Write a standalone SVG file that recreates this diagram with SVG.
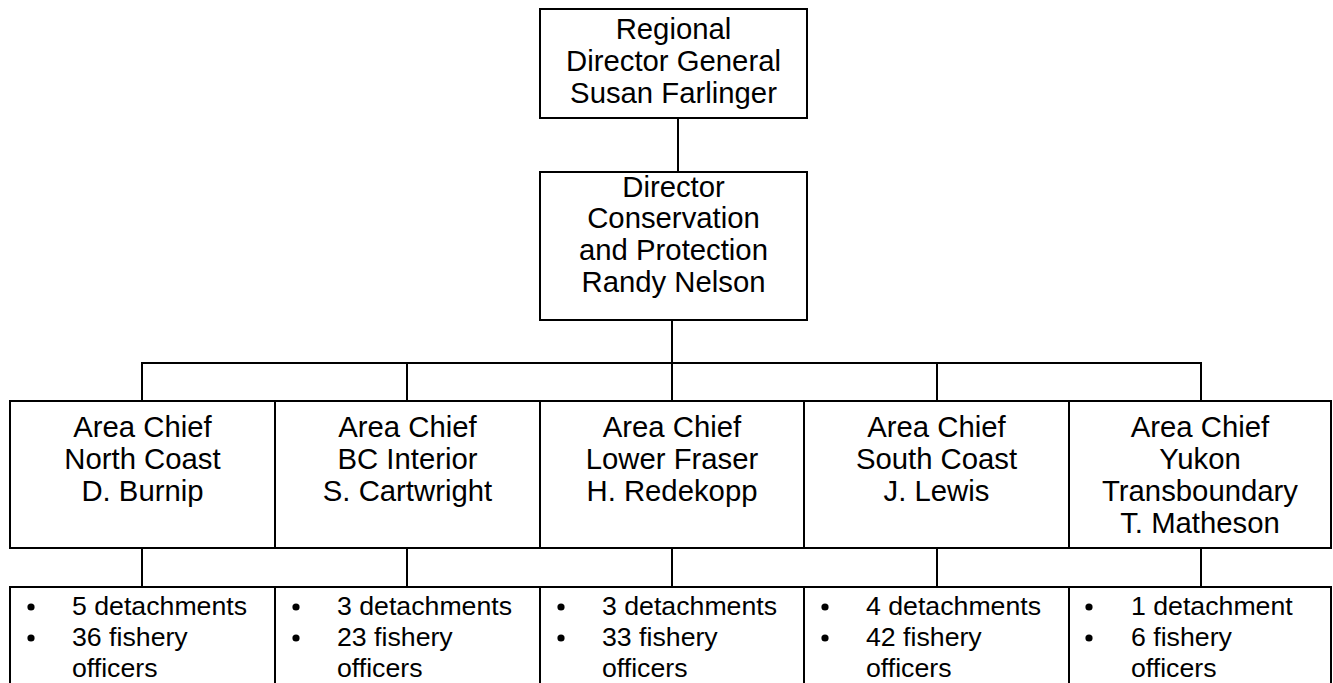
<svg xmlns="http://www.w3.org/2000/svg" width="1333" height="683" viewBox="0 0 1333 683">
<style>
  .box { fill: #ffffff; stroke: #000000; stroke-width: 2; }
  .conn { stroke: #000000; stroke-width: 2; fill: none; }
  .t { font-family: "Liberation Sans", Arial, sans-serif; font-size: 29.3px; fill: #000000; text-anchor: middle; }
  .b { font-family: "Liberation Sans", Arial, sans-serif; font-size: 26.7px; fill: #000000; }
  .dot { fill: #000000; }
</style>
<rect width="1333" height="683" fill="#ffffff"/>
<g id="connectors">
  <line class="conn" x1="678" y1="118" x2="678" y2="172"/>
  <line class="conn" x1="672" y1="320" x2="672" y2="363"/>
  <line class="conn" x1="141" y1="363" x2="1202" y2="363"/>
  <line class="conn" x1="142" y1="363" x2="142" y2="401"/>
  <line class="conn" x1="407" y1="363" x2="407" y2="401"/>
  <line class="conn" x1="672" y1="363" x2="672" y2="401"/>
  <line class="conn" x1="937" y1="363" x2="937" y2="401"/>
  <line class="conn" x1="1201" y1="363" x2="1201" y2="401"/>
  <line class="conn" x1="142" y1="548" x2="142" y2="587"/>
  <line class="conn" x1="407" y1="548" x2="407" y2="587"/>
  <line class="conn" x1="672" y1="548" x2="672" y2="587"/>
  <line class="conn" x1="937" y1="548" x2="937" y2="587"/>
  <line class="conn" x1="1201" y1="548" x2="1201" y2="587"/>
</g>
<g id="rdg">
  <rect class="box" x="540" y="9" width="267" height="109"/>
  <text class="t" x="673.5" y="39">Regional</text>
  <text class="t" x="673.5" y="71">Director General</text>
  <text class="t" x="673.5" y="103">Susan Farlinger</text>
</g>
<g id="director">
  <rect class="box" x="540" y="172" width="267" height="148"/>
  <text class="t" x="673.5" y="197">Director</text>
  <text class="t" x="673.5" y="228">Conservation</text>
  <text class="t" x="673.5" y="260">and Protection</text>
  <text class="t" x="673.5" y="292">Randy Nelson</text>
</g>
<g id="north-coast">
  <rect class="box" x="10" y="401" width="265" height="147"/>
  <text class="t" x="142.5" y="437">Area Chief</text>
  <text class="t" x="142.5" y="469">North Coast</text>
  <text class="t" x="142.5" y="501">D. Burnip</text>
</g>
<g id="bc-interior">
  <rect class="box" x="275" y="401" width="265" height="147"/>
  <text class="t" x="407.5" y="437">Area Chief</text>
  <text class="t" x="407.5" y="469">BC Interior</text>
  <text class="t" x="407.5" y="501">S. Cartwright</text>
</g>
<g id="lower-fraser">
  <rect class="box" x="540" y="401" width="264" height="147"/>
  <text class="t" x="672" y="437">Area Chief</text>
  <text class="t" x="672" y="469">Lower Fraser</text>
  <text class="t" x="672" y="501">H. Redekopp</text>
</g>
<g id="south-coast">
  <rect class="box" x="804" y="401" width="265" height="147"/>
  <text class="t" x="936.5" y="437">Area Chief</text>
  <text class="t" x="936.5" y="469">South Coast</text>
  <text class="t" x="936.5" y="501">J. Lewis</text>
</g>
<g id="yukon">
  <rect class="box" x="1069" y="401" width="262" height="147"/>
  <text class="t" x="1200" y="437">Area Chief</text>
  <text class="t" x="1200" y="469">Yukon</text>
  <text class="t" x="1200" y="501">Transboundary</text>
  <text class="t" x="1200" y="533">T. Matheson</text>
</g>
<g id="north-coast-staff">
  <rect class="box" x="10" y="587" width="265" height="110"/>
  <circle class="dot" cx="31" cy="607" r="3.6"/>
  <circle class="dot" cx="31" cy="638" r="3.6"/>
  <text class="b" x="72" y="615">5 detachments</text>
  <text class="b" x="72" y="646">36 fishery</text>
  <text class="b" x="72" y="677">officers</text>
</g>
<g id="bc-interior-staff">
  <rect class="box" x="275" y="587" width="265" height="110"/>
  <circle class="dot" cx="296" cy="607" r="3.6"/>
  <circle class="dot" cx="296" cy="638" r="3.6"/>
  <text class="b" x="337" y="615">3 detachments</text>
  <text class="b" x="337" y="646">23 fishery</text>
  <text class="b" x="337" y="677">officers</text>
</g>
<g id="lower-fraser-staff">
  <rect class="box" x="540" y="587" width="264" height="110"/>
  <circle class="dot" cx="561" cy="607" r="3.6"/>
  <circle class="dot" cx="561" cy="638" r="3.6"/>
  <text class="b" x="602" y="615">3 detachments</text>
  <text class="b" x="602" y="646">33 fishery</text>
  <text class="b" x="602" y="677">officers</text>
</g>
<g id="south-coast-staff">
  <rect class="box" x="804" y="587" width="265" height="110"/>
  <circle class="dot" cx="825" cy="607" r="3.6"/>
  <circle class="dot" cx="825" cy="638" r="3.6"/>
  <text class="b" x="866" y="615">4 detachments</text>
  <text class="b" x="866" y="646">42 fishery</text>
  <text class="b" x="866" y="677">officers</text>
</g>
<g id="yukon-staff">
  <rect class="box" x="1069" y="587" width="262" height="110"/>
  <circle class="dot" cx="1089" cy="607" r="3.6"/>
  <circle class="dot" cx="1089" cy="638" r="3.6"/>
  <text class="b" x="1131" y="615">1 detachment</text>
  <text class="b" x="1131" y="646">6 fishery</text>
  <text class="b" x="1131" y="677">officers</text>
</g>
</svg>
